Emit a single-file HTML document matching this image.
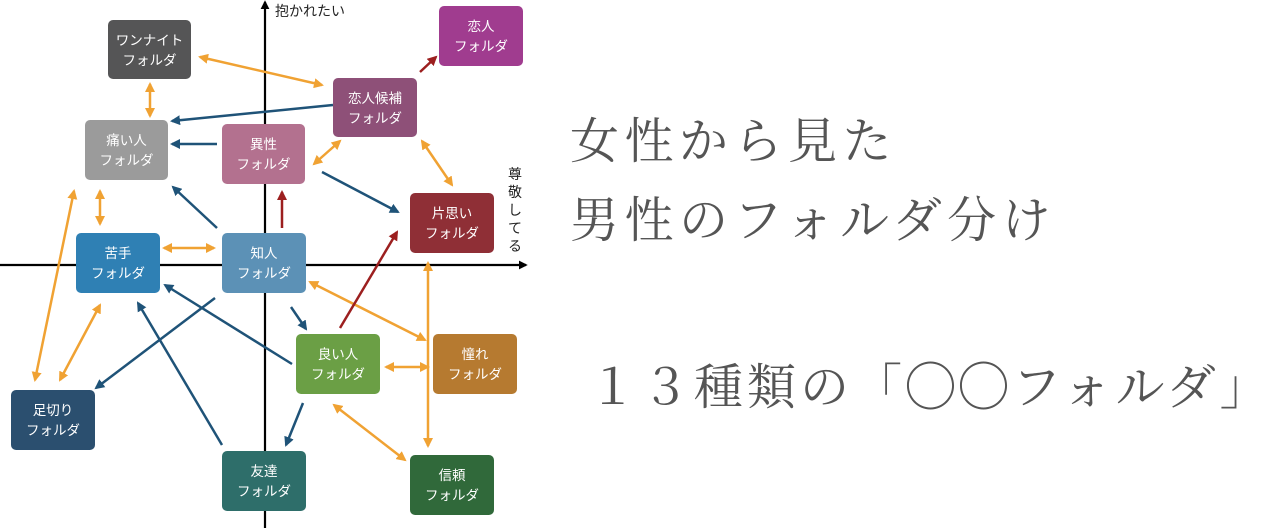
<!DOCTYPE html>
<html><head><meta charset="utf-8"><style>
html,body{margin:0;padding:0;background:#fff;width:1280px;height:528px;overflow:hidden}
svg{display:block}
.bt{font-family:"Liberation Sans","Noto Sans CJK JP",sans-serif;font-size:13.5px;fill:#fff;text-anchor:middle}
.big{font-family:"Liberation Serif","Noto Serif CJK SC",serif;font-size:49px;fill:#555}
</style></head><body>
<svg width="1280" height="528" viewBox="0 0 1280 528" xmlns="http://www.w3.org/2000/svg">
<defs>
<marker id="ao" viewBox="0 0 10 10" refX="8" refY="5" markerWidth="4" markerHeight="4" orient="auto-start-reverse"><path d="M0,0L10,5L0,10z" fill="#f0a233"/></marker>
<marker id="ab" viewBox="0 0 10 10" refX="8" refY="5" markerWidth="4" markerHeight="4" orient="auto"><path d="M0,0L10,5L0,10z" fill="#1f5378"/></marker>
<marker id="ar" viewBox="0 0 10 10" refX="8" refY="5" markerWidth="4" markerHeight="4" orient="auto"><path d="M0,0L10,5L0,10z" fill="#9c1f1f"/></marker>
<marker id="ak" viewBox="0 0 10 10" refX="8" refY="5" markerWidth="4" markerHeight="4" orient="auto"><path d="M0,0L10,5L0,10z" fill="#000"/></marker>
</defs>
<line x1="0" y1="265" x2="526" y2="265" stroke="#000" stroke-width="2.2" marker-end="url(#ak)"/>
<line x1="265" y1="528" x2="265" y2="2" stroke="#000" stroke-width="2.2" marker-end="url(#ak)"/>
<text x="275" y="16" font-family="Liberation Sans,Noto Sans CJK JP,sans-serif" font-size="14" fill="#222">抱かれたい</text>
<g font-family="Liberation Sans,Noto Sans CJK JP,sans-serif" font-size="14" fill="#222" text-anchor="middle">
<text x="515" y="179">尊</text><text x="515" y="197">敬</text><text x="515" y="215">し</text><text x="515" y="233">て</text><text x="515" y="251">る</text></g>
<g stroke="#f0a233" stroke-width="2.5" fill="none" marker-start="url(#ao)" marker-end="url(#ao)">
<line x1="200" y1="57" x2="322" y2="85"/>
<line x1="150" y1="84" x2="150" y2="116"/>
<line x1="314" y1="164" x2="340" y2="141"/>
<line x1="422" y1="141" x2="452" y2="185"/>
<line x1="100" y1="191" x2="100" y2="224"/>
<line x1="74" y1="191" x2="35" y2="380"/>
<line x1="164" y1="248" x2="214" y2="248"/>
<line x1="428" y1="263" x2="428" y2="446"/>
<line x1="310" y1="282" x2="425" y2="340"/>
<line x1="100" y1="305" x2="60" y2="380"/>
<line x1="386" y1="367" x2="428" y2="367"/>
<line x1="334" y1="405" x2="405" y2="460"/>
</g>
<g stroke="#1f5378" stroke-width="2.5" fill="none" marker-end="url(#ab)">
<line x1="333" y1="105" x2="172" y2="121"/>
<line x1="217" y1="144" x2="172" y2="144"/>
<line x1="322" y1="172" x2="398" y2="212"/>
<line x1="217" y1="228" x2="173" y2="187"/>
<line x1="291" y1="307" x2="306" y2="329"/>
<line x1="215" y1="298" x2="96" y2="388"/>
<line x1="292" y1="364" x2="165" y2="285"/>
<line x1="222" y1="445" x2="138" y2="303"/>
<line x1="303" y1="403" x2="286" y2="445"/>
</g>
<g stroke="#9c1f1f" stroke-width="2.5" fill="none" marker-end="url(#ar)">
<line x1="282" y1="228" x2="282" y2="192"/>
<line x1="340" y1="328" x2="397" y2="232"/>
<line x1="420" y1="72" x2="436" y2="57"/>
</g>
<g>
<rect x="108" y="20" width="83" height="59" rx="5" fill="#555556"/><text class="bt" x="149.5" y="45">ワンナイト</text><text class="bt" x="149.5" y="65">フォルダ</text>
<rect x="439" y="6" width="84" height="60" rx="5" fill="#a03c8f"/><text class="bt" x="481" y="31">恋人</text><text class="bt" x="481" y="51">フォルダ</text>
<rect x="333" y="78" width="84" height="59" rx="5" fill="#8e5078"/><text class="bt" x="375" y="103">恋人候補</text><text class="bt" x="375" y="123">フォルダ</text>
<rect x="85" y="120" width="83" height="60" rx="5" fill="#9b9b9b"/><text class="bt" x="126.5" y="145">痛い人</text><text class="bt" x="126.5" y="165">フォルダ</text>
<rect x="222" y="124" width="83" height="60" rx="5" fill="#b3718f"/><text class="bt" x="263.5" y="149">異性</text><text class="bt" x="263.5" y="169">フォルダ</text>
<rect x="410" y="193" width="84" height="60" rx="5" fill="#8f2f36"/><text class="bt" x="452" y="218">片思い</text><text class="bt" x="452" y="238">フォルダ</text>
<rect x="76" y="233" width="84" height="60" rx="5" fill="#2f80b4"/><text class="bt" x="118" y="258">苦手</text><text class="bt" x="118" y="278">フォルダ</text>
<rect x="222" y="233" width="84" height="60" rx="5" fill="#5c91b6"/><text class="bt" x="264" y="258">知人</text><text class="bt" x="264" y="278">フォルダ</text>
<rect x="296" y="334" width="84" height="60" rx="5" fill="#6b9f45"/><text class="bt" x="338" y="359">良い人</text><text class="bt" x="338" y="379">フォルダ</text>
<rect x="433" y="334" width="84" height="60" rx="5" fill="#b67a30"/><text class="bt" x="475" y="359">憧れ</text><text class="bt" x="475" y="379">フォルダ</text>
<rect x="11" y="390" width="84" height="60" rx="5" fill="#2b4f6f"/><text class="bt" x="53" y="415">足切り</text><text class="bt" x="53" y="435">フォルダ</text>
<rect x="222" y="451" width="84" height="60" rx="5" fill="#2e6e6a"/><text class="bt" x="264" y="476">友達</text><text class="bt" x="264" y="496">フォルダ</text>
<rect x="410" y="455" width="84" height="60" rx="5" fill="#30693a"/><text class="bt" x="452" y="480">信頼</text><text class="bt" x="452" y="500">フォルダ</text>
</g>
<text class="big" x="570" y="158" letter-spacing="5.5">女性から見た</text>
<text class="big" x="570" y="237" letter-spacing="5.5">男性のフォルダ分け</text>
<text class="big" x="588" y="404" letter-spacing="4">１３種類の「◯◯フォルダ」</text>
</svg>
</body></html>
